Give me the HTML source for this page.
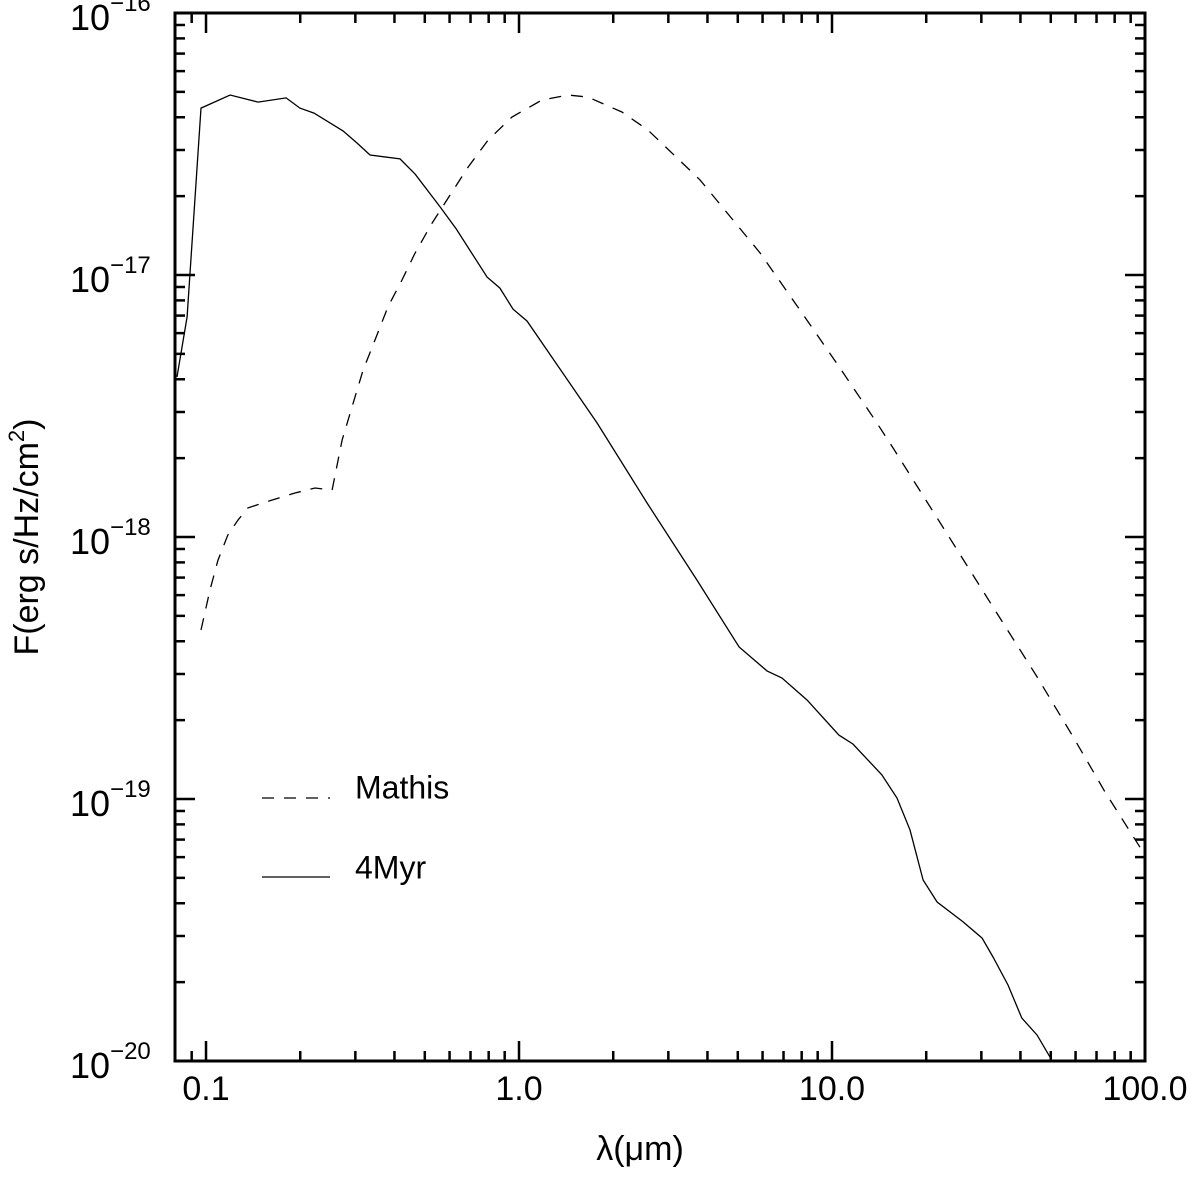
<!DOCTYPE html>
<html><head><meta charset="utf-8"><style>
body{margin:0;background:#fff}
svg text{font-family:"Liberation Sans",sans-serif;fill:#000}
</style></head><body>
<svg id="chart" width="1200" height="1172" viewBox="0 0 1200 1172" xmlns="http://www.w3.org/2000/svg">
<g id="ticks"></g>
<g id="series"></g>
<rect x="175" y="13" width="970" height="1048" fill="none" stroke="#000" stroke-width="3"/>
<g id="labels"></g>
<text x="640" y="1160" font-size="34" text-anchor="middle">λ(μm)</text>
<text transform="translate(38,537) rotate(-90)" font-size="34" text-anchor="middle">F(erg s/Hz/cm<tspan dy="-14" font-size="22">2</tspan><tspan dy="14">)</tspan></text>
<line x1="262" y1="798" x2="330" y2="798" stroke="#000" stroke-width="1.3" stroke-dasharray="12,10"/>
<text x="355" y="790" font-size="32" dominant-baseline="middle">Mathis</text>
<line x1="262" y1="877" x2="330" y2="877" stroke="#000" stroke-width="1.3"/>
<text x="355" y="870" font-size="32" dominant-baseline="middle">4Myr</text>
</svg>
<script>
const solidLam=[0.0808,0.087,0.0964,0.1194,0.1466,0.1803,0.1995,0.2213,0.274,0.3037,0.3341,0.4168,0.4655,0.5598,0.6299,0.7909,0.869,0.957,1.061,1.776,2.564,3.70,5.05,6.20,6.92,8.32,10.52,11.66,14.44,16.13,17.75,19.54,21.66,26.23,30.16,32.68,36.5,40.4,45.2,49.7];
const solidLogF=[-17.389,-17.160,-16.363,-16.313,-16.340,-16.324,-16.363,-16.382,-16.450,-16.496,-16.542,-16.557,-16.615,-16.740,-16.824,-17.008,-17.050,-17.130,-17.176,-17.565,-17.870,-18.164,-18.420,-18.511,-18.538,-18.622,-18.756,-18.790,-18.908,-18.996,-19.118,-19.309,-19.393,-19.469,-19.531,-19.603,-19.710,-19.836,-19.901,-19.985];
const mathisLam=[0.0964,0.103,0.1092,0.1175,0.1265,0.1361,0.1521,0.1924,0.2229,0.2528,0.2721,0.2926,0.3175,0.3467,0.3812,0.4227,0.4655,0.5275,0.6018,0.6877,0.7965,0.950,1.184,1.435,1.661,2.132,2.583,3.787,5.89,7.90,10.45,13.71,15.66,22.6,32.68,45.2,58.5,74.5,97.7];
const mathisLogF=[-18.355,-18.202,-18.088,-17.992,-17.935,-17.889,-17.870,-17.832,-17.813,-17.821,-17.630,-17.504,-17.363,-17.248,-17.122,-17.019,-16.916,-16.802,-16.695,-16.588,-16.485,-16.397,-16.332,-16.313,-16.321,-16.378,-16.447,-16.637,-16.916,-17.134,-17.344,-17.553,-17.660,-17.962,-18.267,-18.534,-18.756,-18.973,-19.195];
const xTickVals=[0.1,1,10,100];
const xTickLabels=["0.1","1.0","10.0","100.0"];
const yTickExps=[-16,-17,-18,-19,-20];

const NS="http://www.w3.org/2000/svg";
const X0=175,X1=1145,Y0=13,Y1=1061;
const lx0=Math.log10(0.0796),lx1=2,ly0=-16,ly1=-20;
const xs=v=>X0+(Math.log10(v)-lx0)/(lx1-lx0)*(X1-X0);
const ys=l=>Y0+(l-ly0)/(ly1-ly0)*(Y1-Y0);
function mk(tag,attrs,parent){const e=document.createElementNS(NS,tag);for(const k in attrs)e.setAttribute(k,attrs[k]);parent.appendChild(e);return e;}
const tg=document.getElementById('ticks'),lg=document.getElementById('labels'),sg=document.getElementById('series');
for(let d=-2;d<=2;d++){for(let m=1;m<10;m++){const v=m*Math.pow(10,d);const x=xs(v);if(x<X0+1||x>X1+1)continue;const L=m===1?20:10;
 let t=mk('line',{x1:x,y1:Y1,x2:x,y2:Y1-L,stroke:'#000','stroke-width':2.5},tg);
 
 
 t=mk('line',{x1:x,y1:Y0,x2:x,y2:Y0+L,stroke:'#000','stroke-width':2.5},tg);
 
 }}
for(let e=-20;e<-16;e++){for(let m=1;m<10;m++){const l=e+Math.log10(m);const y=ys(l);const L=m===1?20:10;
 let t=mk('line',{x1:X0,y1:y,x2:X0+L,y2:y,stroke:'#000','stroke-width':2.5},tg);
 
 
 t=mk('line',{x1:X1,y1:y,x2:X1-L,y2:y,stroke:'#000','stroke-width':2.5},tg);
 
 }}
xTickVals.forEach((v,i)=>{const t=mk('text',{x:xs(v),y:1100,'font-size':34,'text-anchor':'middle'},lg);t.textContent=xTickLabels[i];
 
 });
yTickExps.forEach(e=>{const y=ys(e);const t=mk('text',{x:70,y:y+17,'font-size':36},lg);
 
 
 t.textContent='10';const s=mk('tspan',{dy:-19,'font-size':24},t);s.textContent='−'+(-e);});
function path(lam,lf,dash,name){const d=lam.map((v,i)=>(i?'L':'M')+xs(v).toFixed(1)+','+ys(lf[i]).toFixed(1)).join('');
 const p=mk('path',{d:d,fill:'none',stroke:'#000','stroke-width':1.3},sg);if(dash)p.setAttribute('stroke-dasharray','12,10');
 
 }
path(solidLam,solidLogF,false,'line-4myr');
path(mathisLam,mathisLogF,true,'line-mathis');
</script>
</body></html>
